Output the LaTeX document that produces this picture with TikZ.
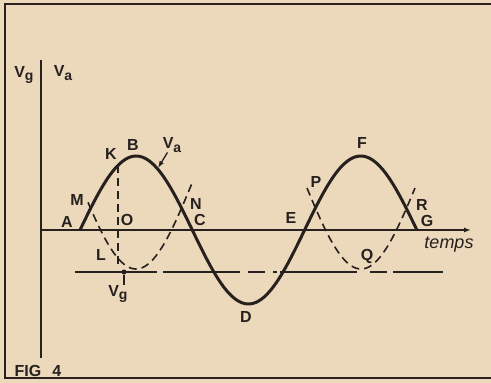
\documentclass[tikz,border=0pt]{standalone}
\usepackage{fontspec}
\setmainfont{Liberation Sans}
\usepackage{xcolor}
\usepackage{tikz}
\usetikzlibrary{arrows.meta}
\definecolor{paper}{RGB}{236,216,186}
\definecolor{ink}{RGB}{38,32,30}
\newcommand{\vsub}[1]{V\kern-0.2pt\raisebox{-0.4ex}{\fontsize{14}{14}\selectfont #1}}

\begin{document}
\begin{tikzpicture}[
        x=1pt, y=-1pt,
        lbl/.style={font=\fontsize{16}{16}\selectfont\bfseries, text=ink, inner sep=0pt},
        axis/.style={draw=ink, line width=1.8pt},
        wave/.style={draw=ink, line width=3pt},
        grid/.style={draw=ink, line width=1.6pt, dash pattern=on 8pt off 5pt},
        arr/.style={-{Latex[length=7pt, width=5pt]}}
    ]
    \useasboundingbox (0,0) rectangle (491,383);
    \fill[paper] (0,0) rectangle (491,383);

    % frame
    \draw[ink, line width=2pt] (491,4) -- (5,4) -- (5,378) -- (491,378);

    % axes
    \draw[axis] (41,60) -- (41,358);
    \draw[axis, arr] (41,230) -- (471,230);

    % anode voltage
    \draw[wave] plot[domain=80:417, samples=120, smooth] (\x, {230-74*sin((\x-80)/112.3*180)});

    % grid voltage
    \draw[grid] plot[domain=88:192, samples=50, smooth] (\x, {182.6+86.4*cos((\x-136)/225*360)});
    \draw[grid] plot[domain=307:415, samples=50, smooth] (\x, {182.6+86.4*cos((\x-361)/225*360)});
    \draw[ink, line width=1.6pt, dash pattern=on 82pt off 6pt on 77pt off 8pt on 17pt off 8pt on 4pt off 3pt on 77pt off 13pt on 17pt off 6pt on 50pt off 20pt] (75,272) -- (443,272);

    \coordinate (ktop) at (118,165);
    \coordinate (kbot) at (118,268);
    \draw[grid] (ktop) -- (kbot);

    \node[circle, fill=ink, inner sep=0pt, minimum size=5pt] (vgdot) at (124,272) {};

    % labels
    \node[lbl] (vgaxis) at (24,75) {\vsub{g}};
    \node[lbl] (vaaxis) at (63,73) {\vsub{a}};
    \node[lbl] (k) at (111,154) {K};
    \node[lbl] (b) at (133,145) {B};
    \node[lbl] (va) at (172,145) {\vsub{a}};
    \node[lbl] (m) at (77,200) {M};
    \node[lbl] (a) at (67,222) {A};
    \node[lbl] (o) at (127,220) {O};
    \node[lbl] (n) at (196,204) {N};
    \node[lbl] (c) at (200,220) {C};
    \node[lbl] (l) at (101,255) {L};
    \node[lbl] (vg) at (118,294) {\vsub{g}};
    \node[lbl] (d) at (246,317) {D};
    \node[lbl] (e) at (291,218) {E};
    \node[lbl] (p) at (316,182) {P};
    \node[lbl] (f) at (362,143) {F};
    \node[lbl] (r) at (422,205) {R};
    \node[lbl] (g) at (427,221) {G};
    \node[lbl] (q) at (367,256) {Q};
    \node[font=\fontsize{18}{18}\selectfont\itshape, text=ink, inner sep=0pt] (temps) at (449,245) {temps};
    \node[lbl] (fig) at (38,371) {FIG\hspace{11pt}4};

    \coordinate (vapt) at (158,168);
    \draw[ink, line width=1.3pt, arr] (va) -- (vapt);
    \draw[ink, line width=1.4pt] (vgdot) -- (vg.north -| vgdot);

\end{tikzpicture}
\end{document}
